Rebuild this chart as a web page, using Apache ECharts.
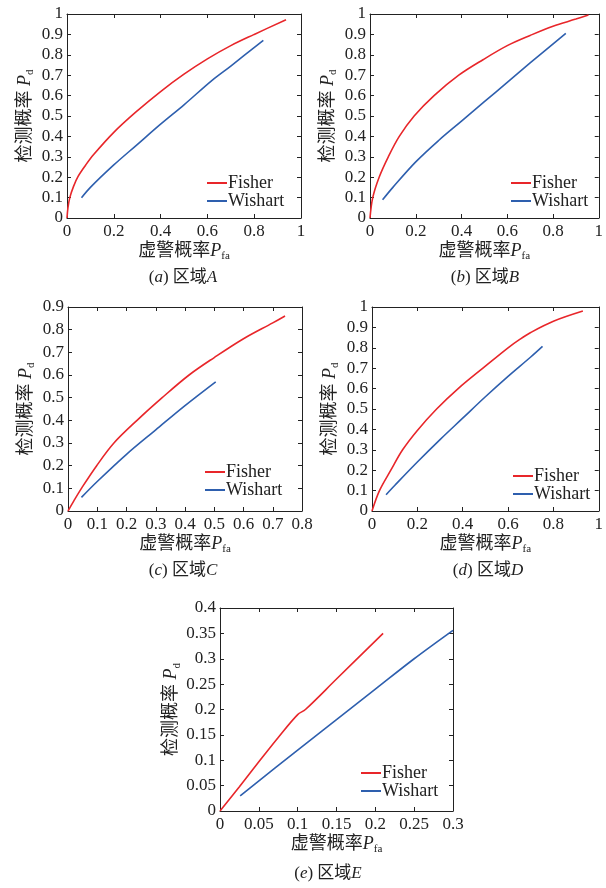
<!DOCTYPE html>
<html>
<head>
<meta charset="utf-8">
<script src="https://cdn.jsdelivr.net/npm/echarts@6/dist/echarts.min.js"></script>
<style>
  html, body { margin: 0; padding: 0; background: #fff; }
  #chart { width: 606px; height: 888px; }
</style>
</head>
<body>
<div id="chart"></div>
<script>
  // 读图得到的 ROC 曲线数据 [Pfa, Pd]
  const fisherA = [[0, 0], [0.004, 0.05], [0.012, 0.1], [0.028, 0.155], [0.048, 0.205], [0.08, 0.26], [0.113, 0.31], [0.2, 0.42], [0.3, 0.525], [0.4, 0.62], [0.5, 0.705], [0.6, 0.78], [0.7, 0.845], [0.8, 0.9], [0.936, 0.972]]
  const wishartA = [[0.062, 0.099], [0.1, 0.15], [0.2, 0.26], [0.3, 0.36], [0.4, 0.46], [0.5, 0.555], [0.62, 0.675], [0.7, 0.745], [0.839, 0.871]]

  const fisherB = [[0, 0], [0.012, 0.1], [0.04, 0.2], [0.08, 0.3], [0.128, 0.4], [0.193, 0.5], [0.28, 0.6], [0.388, 0.7], [0.494, 0.776], [0.6, 0.845], [0.7, 0.895], [0.8, 0.94], [0.9, 0.975], [0.955, 0.995]]
  const wishartB = [[0.055, 0.089], [0.1, 0.15], [0.2, 0.275], [0.3, 0.38], [0.4, 0.475], [0.5, 0.57], [0.6, 0.665], [0.7, 0.76], [0.856, 0.905]]

  const fisherC = [[0, 0], [0.02, 0.045], [0.046, 0.1], [0.098, 0.2], [0.157, 0.3], [0.236, 0.4], [0.322, 0.5], [0.414, 0.6], [0.5, 0.677], [0.6, 0.76], [0.7, 0.83], [0.742, 0.86]]
  const wishartC = [[0.046, 0.06], [0.1, 0.13], [0.2, 0.25], [0.3, 0.358], [0.4, 0.465], [0.505, 0.57]]

  const fisherD = [[0, 0], [0.033, 0.1], [0.083, 0.2], [0.135, 0.3], [0.2, 0.395], [0.285, 0.5], [0.38, 0.6], [0.5, 0.71], [0.6, 0.8], [0.65, 0.84], [0.7, 0.875], [0.8, 0.93], [0.93, 0.98]]
  const wishartD = [[0.062, 0.08], [0.1, 0.125], [0.2, 0.24], [0.3, 0.35], [0.4, 0.455], [0.5, 0.56], [0.6, 0.66], [0.7, 0.755], [0.752, 0.807]]

  const fisherE = [[0, 0], [0.025, 0.048], [0.05, 0.097], [0.075, 0.145], [0.1, 0.19], [0.11, 0.2], [0.15, 0.26], [0.21, 0.35]]
  const wishartE = [[0.026, 0.03], [0.1, 0.12], [0.15, 0.18], [0.2, 0.24], [0.25, 0.30], [0.3, 0.356]]

  // 坐标轴范围 [min, max, interval]
  const xTicksAB = [0, 1, 0.2]
  const yTicksAB = [0, 1, 0.1]
  const xTicksC = [0, 0.8, 0.1]
  const yTicksC = [0, 0.9, 0.1]
  const xTicksD = [0, 1, 0.2]
  const yTicksD = [0, 1, 0.1]
  const xTicksE = [0, 0.3, 0.05]
  const yTicksE = [0, 0.4, 0.05]

  const seriesNames = ['Fisher', 'Wishart']
  const captionLetters = ['a', 'b', 'c', 'd', 'e']
  const regionNames = ['A', 'B', 'C', 'D', 'E']

  const font = "'Liberation Serif', 'Noto Sans CJK SC', serif"
  const RED = '#e8262a'
  const BLUE = '#2e5fae'
  const AXIS = '#222'

  const panels = [
    { grid: { left: 67, top: 14, width: 234, height: 204 }, xt: xTicksAB, yt: yTicksAB, f: fisherA, w: wishartA, legend: [207, 174], cap: [183, 279] },
    { grid: { left: 370, top: 14, width: 234, height: 204 }, xt: xTicksAB, yt: yTicksAB, f: fisherB, w: wishartB, legend: [511, 174], cap: [485, 279] },
    { grid: { left: 68, top: 307, width: 234, height: 204 }, xt: xTicksC, yt: yTicksC, f: fisherC, w: wishartC, legend: [205, 463], cap: [183, 572] },
    { grid: { left: 372, top: 307, width: 233, height: 204 }, xt: xTicksD, yt: yTicksD, f: fisherD, w: wishartD, legend: [513, 467], cap: [488, 572] },
    { grid: { left: 220, top: 608, width: 233, height: 203 }, xt: xTicksE, yt: yTicksE, f: fisherE, w: wishartE, legend: [361, 764], cap: [328, 875] },
  ]

  const nameRich = {
    cn: { fontSize: 18, fontFamily: font, color: AXIS, verticalAlign: 'top' },
    it: { fontSize: 18, fontFamily: font, fontStyle: 'italic', color: AXIS, verticalAlign: 'top' },
    sub: { fontSize: 11, fontFamily: font, color: AXIS, verticalAlign: 'top', padding: [9, 0, 0, 0] },
  }

  const grid = [], xAxis = [], yAxis = [], series = [], legend = [], title = []

  panels.forEach((p, i) => {
    grid.push(Object.assign({ containLabel: false }, p.grid))
    const common = (t) => ({
      type: 'value', min: t[0], max: t[1], interval: t[2], gridIndex: i,
      axisLine: { show: true, onZero: false, lineStyle: { color: AXIS, width: 1 } },
      axisTick: { show: true, inside: true, length: 4, lineStyle: { color: AXIS } },
      splitLine: { show: false },
    })
    xAxis.push(Object.assign(common(p.xt), {
      position: 'bottom',
      axisLabel: { color: AXIS, fontFamily: font, fontSize: 17, margin: 5 },
      name: '{cn|虚警概率}{it|P}{sub|fa}', nameLocation: 'middle', nameGap: 24,
      nameTextStyle: { rich: nameRich },
    }))
    xAxis.push(Object.assign(common(p.xt), { position: 'top', axisLabel: { show: false } }))
    yAxis.push(Object.assign(common(p.yt), {
      position: 'left',
      axisLabel: { color: AXIS, fontFamily: font, fontSize: 17, margin: 4 },
      name: '{cn|检测概率 }{it|P}{sub|d}', nameLocation: 'middle', nameGap: 31, nameRotate: 90,
      nameTextStyle: { rich: nameRich },
    }))
    yAxis.push(Object.assign(common(p.yt), { position: 'right', axisLabel: { show: false } }))

    const mk = (name, data, color) => ({
      name, type: 'line', xAxisIndex: i * 2, yAxisIndex: i * 2, data,
      smooth: 0.35, symbol: 'none', silent: true,
      lineStyle: { color, width: 1.6 }, itemStyle: { color },
    })
    series.push(mk(seriesNames[0], p.f, RED))
    series.push(mk(seriesNames[1], p.w, BLUE))

    legend.push({
      data: seriesNames, orient: 'vertical', left: p.legend[0], top: p.legend[1],
      padding: 0, itemGap: 0, itemWidth: 20, itemHeight: 2, icon: 'rect',
      selectedMode: false,
      textStyle: { fontFamily: font, fontSize: 18, color: AXIS, lineHeight: 18, padding: [0, 0, 0, -4] },
    })

    title.push({
      text: '{n|(}{it|' + captionLetters[i] + '}{n|) 区域}{it|' + regionNames[i] + '}',
      left: p.cap[0], top: p.cap[1] - 10, textAlign: 'center', padding: 0,
      textStyle: {
        fontWeight: 'normal',
        rich: {
          n: { fontSize: 17, fontFamily: font, fontWeight: 'normal', color: AXIS },
          it: { fontSize: 17, fontFamily: font, fontWeight: 'normal', fontStyle: 'italic', color: AXIS },
        },
      },
    })
  })

  const chart = echarts.init(document.getElementById('chart'))
  chart.setOption({ animation: false, grid, xAxis, yAxis, series, legend, title })
</script>
</body>
</html>
